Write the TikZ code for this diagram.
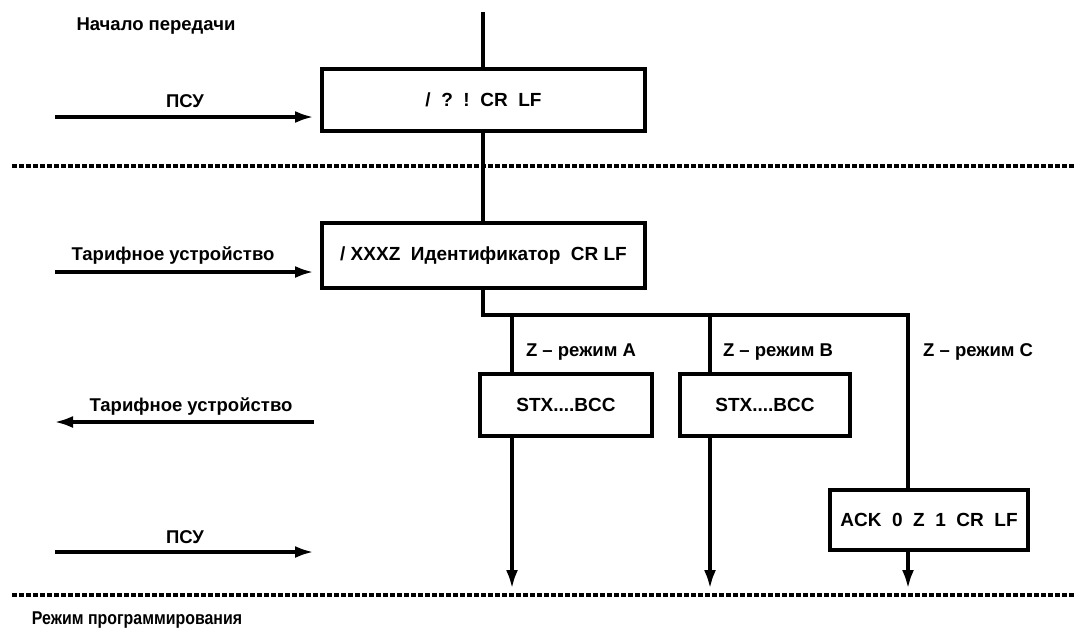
\documentclass[tikz,border=0pt]{standalone}
\usepackage{fontspec}
\usepackage{graphicx}
\setmainfont{Liberation Sans}
\usetikzlibrary{arrows.meta}
\begin{document}
\begin{tikzpicture}[x=1pt,y=-1pt,
  font=\fontsize{18.5}{21}\selectfont\bfseries,
  box/.style={draw,line width=4.5pt,rectangle,inner sep=0pt,font=\fontsize{19}{21}\selectfont\bfseries},
  wire/.style={line width=4.5pt},
  arr/.style={line width=4.5pt,-{Latex[length=19pt,width=12pt]}},
  sep/.style={line width=4.5pt,dash pattern=on 5pt off 2pt},
  lbl/.style={inner sep=0pt}]
\useasboundingbox (0,0) rectangle (1075,635);
% separators
\coordinate (s1a) at (12,166); \coordinate (s1b) at (1075,166);
\coordinate (s2a) at (12,595); \coordinate (s2b) at (1075,595);
\draw[sep] (s1a) -- (s1b);
\draw[sep] (s2a) -- (s2b);
% boxes
\node[box,minimum width=323pt,minimum height=62pt] (b1) at (483.5,100) {/\ \ ?\ \ !\ \ CR\ \ LF};
\node[box,minimum width=323pt,minimum height=65pt] (b2) at (483.5,255.5) {/ XXXZ\ \ Идентификатор\ \ CR LF};
\node[box,minimum width=172pt,minimum height=62pt] (bA) at (566,405) {STX....BCC};
\node[box,minimum width=170pt,minimum height=62pt] (bB) at (765,405) {STX....BCC};
\node[box,minimum width=198pt,minimum height=60pt] (bC) at (929,520) {ACK\ \ 0\ \ Z\ \ 1\ \ CR\ \ LF};
% texts
\node[lbl] (t0) at (156,26) {Начало передачи};
\node[lbl] (t1) at (185,101) {ПСУ};
\node[lbl] (t2) at (173,256) {Тарифное устройство};
\node[lbl] (t3) at (191,407) {Тарифное устройство};
\node[lbl] (t4) at (185,537) {ПСУ};
\node[lbl] (t5) at (137,620) {\scalebox{0.86}[1]{Режим программирования}};
\node[lbl] (zA) at (581,352) {Z – режим A};
\node[lbl] (zB) at (778,352) {Z – режим B};
\node[lbl,anchor=west] (zC) at (923,352) {Z – режим C};
% main flow
\coordinate (top) at (483,12);
\draw[wire] (top) -- (top |- b1.north);
\draw[wire] (b1.south -| top) -- (b2.north -| top);
\coordinate (j) at (483,315);
\coordinate (jC) at (908,315);
\coordinate (xA) at (512,315);
\coordinate (xB) at (710,315);
\draw[wire] (b2.south -| top) -- (j) -- (jC) -- (jC |- bC.north);
\draw[wire] (xA) -- (xA |- bA.north);
\draw[wire] (xB) -- (xB |- bB.north);
\coordinate (eA) at (512,589);
\coordinate (eB) at (710,589);
\coordinate (eC) at (908,589);
\draw[arr] (bA.south -| xA) -- (eA);
\draw[arr] (bB.south -| xB) -- (eB);
\draw[arr] (bC.south -| jC) -- (eC);
% side arrows
\coordinate (p1a) at (55,117); \coordinate (p1b) at (314,117);
\draw[arr] (p1a) -- (p1b);
\coordinate (p2a) at (55,272); \coordinate (p2b) at (314,272);
\draw[arr] (p2a) -- (p2b);
\coordinate (p3a) at (314,422); \coordinate (p3b) at (54,422);
\draw[arr] (p3a) -- (p3b);
\coordinate (p4a) at (55,552); \coordinate (p4b) at (314,552);
\draw[arr] (p4a) -- (p4b);
\end{tikzpicture}
\end{document}
